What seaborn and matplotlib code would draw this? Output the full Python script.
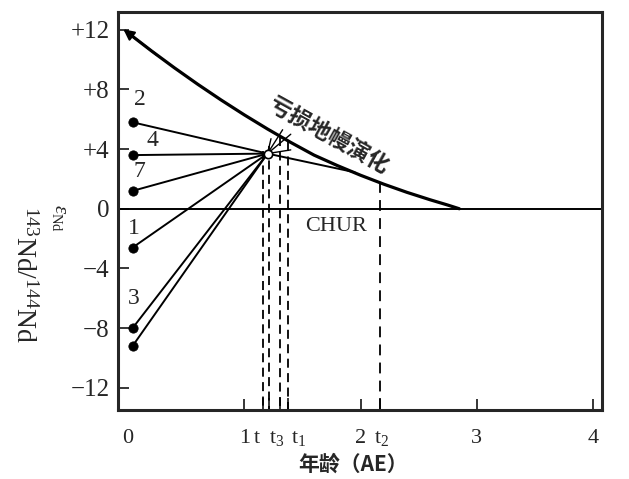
import numpy as np
import pandas as pd
import seaborn as sns
import matplotlib.pyplot as plt

# depleted mantle evolution curve
curve_age = [0, 0.2, 0.4, 0.6, 0.8, 1.0, 1.2, 1.4, 1.6, 1.8, 2.0, 2.2, 2.4, 2.6, 2.75, 2.85]
curve_eps = [11.8, 10.6, 9.45, 8.35, 7.3, 6.3, 5.35, 4.45, 3.6, 2.9, 2.25, 1.65, 1.1, 0.6, 0.25, 0.0]

# present-day samples and their labels
sample_age = [0.04, 0.04, 0.04, 0.04, 0.04, 0.04]
sample_eps = [5.8, 3.6, 1.2, -2.6, -8.0, -9.2]
sample_lbl = ["2", "4", "7", "1", "3", ""]
lbl_age = [0.05, 0.16, 0.05, 0.0, 0.0, 0.0]
lbl_eps = [7.3, 4.6, 2.5, -1.3, -6.0, 0]

# convergence point and tangent end
conv_age, conv_eps = 1.2, 3.7
tan_age, tan_eps = 1.95, 2.45

# model ages (dashed lines)
t_ages = [1.16, 1.21, 1.31, 1.38]
t_top = [3.9, 4.2, 4.8, 4.5]
t2_age, t2_top = 2.17, 1.8

# x axis labels
x_ticks = [1, 2, 3, 4]
x_labels = ["0", "1", "t", "t$_3$", "t$_1$", "2", "t$_2$", "3", "4"]
x_label_pos = [0.0, 1.0, 1.11, 1.28, 1.47, 2.0, 2.18, 3.0, 4.0]

y_ticks = [12, 8, 4, 0, -4, -8, -12]
y_labels = ["+12", "+8", "+4", "0", "\u22124", "\u22128", "\u221212"]

sns.set_style("ticks")
plt.rcParams["font.family"] = ["Liberation Serif", "Noto Sans CJK SC", "DejaVu Sans"]
plt.rcParams["mathtext.fontset"] = "custom"
plt.rcParams["mathtext.rm"] = "Liberation Serif"
plt.rcParams["mathtext.it"] = "Liberation Serif:italic"
cjk = ["Noto Sans CJK SC", "DejaVu Sans"]

fig = plt.figure(figsize=(6.29, 4.79), dpi=100)
ax = fig.add_axes([0.1876, 0.144, 0.77, 0.831])

# CHUR line
ax.axhline(0, color="black", lw=1.4)

# depleted mantle curve
sns.lineplot(x=curve_age, y=curve_eps, ax=ax, color="black", lw=2.3, sort=False)
ax.annotate("", xy=(-0.04, 12.04), xytext=(0.25, 10.3),
            arrowprops=dict(arrowstyle="-|>", color="black", lw=1.5, mutation_scale=16,
                            shrinkA=0, shrinkB=0))

# sample lines to convergence point
for a, e in zip(sample_age, sample_eps):
    ax.plot([a, conv_age], [e, conv_eps], color="black", lw=1.4)
ax.plot([conv_age, tan_age], [conv_eps, tan_eps], color="black", lw=1.4)

# small fan from convergence point to the curve
for a, top in zip(t_ages[1:], t_top[1:]):
    ax.plot([conv_age, a + 0.02], [conv_eps, top + 0.5], color="black", lw=1)
ax.plot([conv_age, 1.4], [conv_eps, conv_eps + 0.25], color="black", lw=1)

# dashed model-age lines
for a, top in zip(t_ages, t_top):
    ax.plot([a, a], [top, -13.5], color="black", lw=1.3, ls=(0, (5, 3)))
ax.plot([t2_age, t2_age], [t2_top, -13.5], color="black", lw=1.3, ls=(0, (6, 4)))

df = pd.DataFrame({"age": sample_age, "eps": sample_eps})
sns.scatterplot(data=df, x="age", y="eps", ax=ax, color="black", s=45,
                edgecolor="black", zorder=5)
ax.plot(conv_age, conv_eps, "o", mfc="white", mec="black", ms=6, mew=1.2, zorder=6)

for lb, a, e in zip(sample_lbl, lbl_age, lbl_eps):
    if lb:
        ax.text(a, e, lb, fontsize=17, ha="left", va="center")

ax.text(1.73, 4.9, "亏损地幔演化", family=cjk, fontsize=16, fontweight="bold",
        rotation=-29, rotation_mode="anchor", ha="center", va="center")
ax.text(1.52, -1.2, "CHUR", fontsize=16, ha="left", va="center")

ax.set_xlim(-0.086, 4.08)
ax.set_ylim(-13.5, 13.2)
ax.set_xticks(x_ticks)
ax.set_xticklabels([])
ax.set_xticks(t_ages + [t2_age], minor=True)
ax.set_yticks(y_ticks)
ax.set_yticklabels(y_labels, fontsize=18)
ax.tick_params(direction="in", length=8, width=1.3)
ax.tick_params(axis="x", which="minor", direction="in", length=9, width=1.3)
ax.tick_params(axis="y", pad=6)
for sp in ax.spines.values():
    sp.set_visible(True)
    sp.set_linewidth(2.2)

for lb, x in zip(x_labels, x_label_pos):
    ax.text(x, -0.083, lb, transform=ax.get_xaxis_transform(), fontsize=16,
            ha="center", va="baseline")

ax.set_xlabel("")
ax.set_ylabel("")
fig.text(0.562, 0.03, "年龄（AE）", family=cjk, fontsize=15, fontweight="bold",
         ha="center", va="center")
fig.text(0.037, 0.426, "$^{143}$Nd/$^{144}$Nd", rotation=-90, fontsize=20,
         ha="center", va="center")
fig.text(0.095, 0.545, "$\\varepsilon_{\\rm Nd}$", rotation=-90, fontsize=15,
         ha="center", va="center")

fig.savefig("out.png", dpi=100)
